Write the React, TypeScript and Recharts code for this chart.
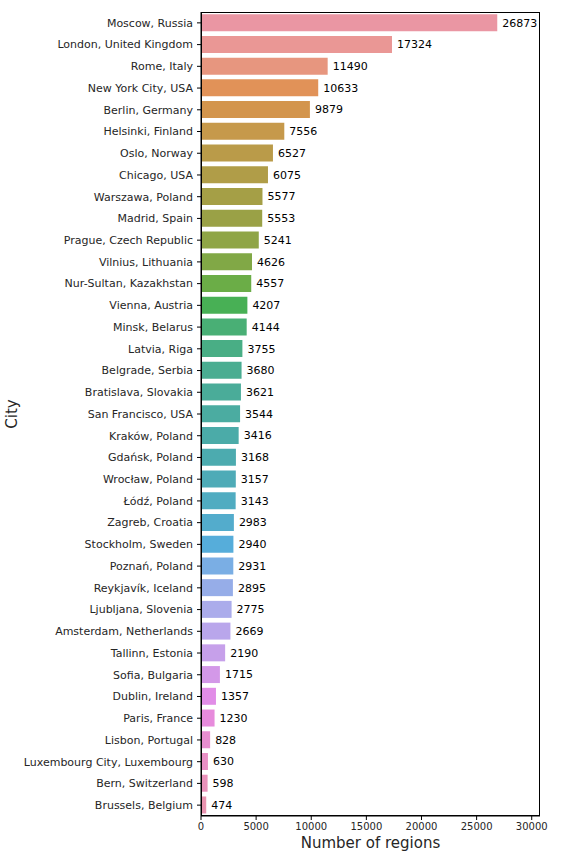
import { Bar, BarChart, Cell, Label, LabelList, XAxis, YAxis } from "recharts";

const cities = [
  "Moscow, Russia", "London, United Kingdom", "Rome, Italy", "New York City, USA",
  "Berlin, Germany", "Helsinki, Finland", "Oslo, Norway", "Chicago, USA",
  "Warszawa, Poland", "Madrid, Spain", "Prague, Czech Republic", "Vilnius, Lithuania",
  "Nur-Sultan, Kazakhstan", "Vienna, Austria", "Minsk, Belarus", "Latvia, Riga",
  "Belgrade, Serbia", "Bratislava, Slovakia", "San Francisco, USA", "Kraków, Poland",
  "Gdańsk, Poland", "Wrocław, Poland", "Łódź, Poland", "Zagreb, Croatia",
  "Stockholm, Sweden", "Poznań, Poland", "Reykjavík, Iceland", "Ljubljana, Slovenia",
  "Amsterdam, Netherlands", "Tallinn, Estonia", "Sofia, Bulgaria", "Dublin, Ireland",
  "Paris, France", "Lisbon, Portugal", "Luxembourg City, Luxembourg", "Bern, Switzerland",
  "Brussels, Belgium",
];

const regions = [
  26873, 17324, 11490, 10633, 9879, 7556, 6527, 6075, 5577, 5553, 5241, 4626, 4557,
  4207, 4144, 3755, 3680, 3621, 3544, 3416, 3168, 3157, 3143, 2983, 2940, 2931, 2895,
  2775, 2669, 2190, 1715, 1357, 1230, 828, 630, 598, 474,
];

const xTicks = [0, 5000, 10000, 15000, 20000, 25000, 30000];

const data = cities.map((city, i) => ({ city, regions: regions[i] }));

// husl palette (seaborn style), desaturated a bit like seaborn bars
const M = [
  [3.2406, -1.5372, -0.4986],
  [-0.9689, 1.8758, 0.0415],
  [0.0557, -0.204, 1.057],
];
const KAPPA = 903.3;
const EPS = 0.008856;
const REF_U = 0.19784;
const REF_V = 0.46834;

function maxChroma(L: number, H: number) {
  const hrad = (H / 180) * Math.PI;
  const sinH = Math.sin(hrad);
  const cosH = Math.cos(hrad);
  const sub1 = Math.pow(L + 16, 3) / 1560896;
  const sub2 = sub1 > EPS ? sub1 : L / KAPPA;
  let result = Infinity;
  for (const [m1, m2, m3] of M) {
    const top = (0.99915 * m1 + 1.05122 * m2 + 1.1446 * m3) * sub2;
    const rbottom = 0.8633 * m3 - 0.17266 * m2;
    const lbottom = 0.12949 * m3 - 0.38848 * m1;
    const bottom = (rbottom * sinH + lbottom * cosH) * sub2;
    for (const t of [0, 1]) {
      const C = (L * (top - 1.05122 * t)) / (bottom + 0.17266 * sinH * t);
      if (C > 0 && C < result) result = C;
    }
  }
  return result;
}

function huslToRgb(h: number, s: number, l: number) {
  const C = (maxChroma(l, h) / 100) * s;
  const hrad = (h / 180) * Math.PI;
  const U = Math.cos(hrad) * C;
  const V = Math.sin(hrad) * C;
  const t = (l + 16) / 116;
  const varY = Math.pow(t, 3) > EPS ? Math.pow(t, 3) : (116 * t - 16) / KAPPA;
  const varU = U / (13 * l) + REF_U;
  const varV = V / (13 * l) + REF_V;
  const Y = varY;
  const X = -(9 * Y * varU) / ((varU - 4) * varV - varU * varV);
  const Z = (9 * Y - 15 * varV * Y - varV * X) / (3 * varV);
  return M.map((row) => {
    const c = row[0] * X + row[1] * Y + row[2] * Z;
    const v = c <= 0.0031308 ? 12.92 * c : 1.055 * Math.pow(c, 1 / 2.4) - 0.055;
    return Math.min(1, Math.max(0, v));
  });
}

function barColor(i: number, n: number) {
  const hue = ((i / n + 0.01) % 1) * 359;
  const rgb = huslToRgb(hue, 0.9 * 99, 0.7 * 99);
  const mx = Math.max(...rgb);
  const mn = Math.min(...rgb);
  const light = (mx + mn) / 2;
  const out = rgb.map((c) => light + (c - light) * 0.75);
  return "#" + out.map((c) => Math.round(c * 255).toString(16).padStart(2, "0")).join("");
}

const font = "'DejaVu Sans', sans-serif";
const ink = "#262626";

// plain tick so long names don't wrap
function CityTick(props: any) {
  const { x, y, payload } = props;
  return (
    <text x={x} y={y} dy="0.35em" textAnchor="end" fontSize={11} fill={ink} fontFamily={font}>
      {payload.value}
    </text>
  );
}

export default function App() {
  return (
    <div style={{ position: "absolute", left: 0, top: 0, width: 576, height: 864, background: "#fff", fontFamily: font }}>
      <BarChart
        width={576}
        height={864}
        data={data}
        layout="vertical"
        margin={{ top: 12, right: 36, bottom: 0, left: 0 }}
        barCategoryGap="10%"
      >
        <XAxis
          type="number"
          domain={[0, 30750]}
          ticks={xTicks}
          height={48}
          tickSize={4}
          tickMargin={3}
          interval={0}
          stroke="#000"
          tick={{ fontSize: 10, fill: ink, fontFamily: font }}
        >
          <Label
            value="Number of regions"
            position="insideBottom"
            offset={16}
            style={{ fontSize: 15, fill: ink, fontFamily: font }}
          />
        </XAxis>
        <YAxis
          type="category"
          dataKey="city"
          width={201}
          tickSize={4}
          tickMargin={4}
          interval={0}
          stroke="#000"
          tick={<CityTick />}
        >
          <Label
            value="City"
            angle={-90}
            position="insideLeft"
            offset={12}
            style={{ fontSize: 15, fill: ink, fontFamily: font, textAnchor: "middle" }}
          />
        </YAxis>
        <Bar dataKey="regions" isAnimationActive={false}>
          {data.map((d, i) => (
            <Cell key={d.city} fill={barColor(i, data.length)} />
          ))}
          <LabelList
            dataKey="regions"
            position="right"
            offset={5}
            style={{ fontSize: 11, fill: "#000", fontFamily: font }}
          />
        </Bar>
      </BarChart>
      <div
        style={{
          position: "absolute",
          left: 201,
          top: 12,
          width: 339,
          height: 804,
          border: "1px solid #000",
          boxSizing: "border-box",
          pointerEvents: "none",
        }}
      />
    </div>
  );
}
